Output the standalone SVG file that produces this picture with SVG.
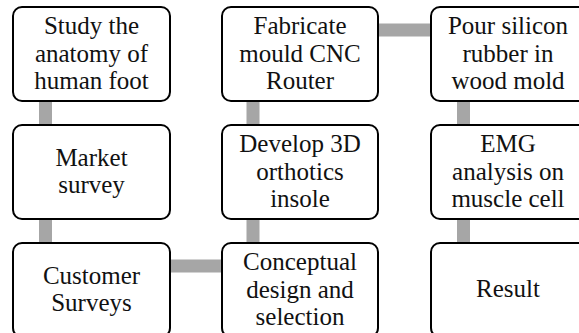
<svg xmlns="http://www.w3.org/2000/svg" width="579" height="333" viewBox="0 0 579 333">
<style>
.box{fill:#fff;stroke:#000;stroke-width:2}
.conn{stroke:#a6a6a6;stroke-width:13;fill:none}
.t{font-family:'Liberation Serif','Times New Roman',serif;font-size:25px;fill:#111;text-anchor:middle}
</style>
<rect width="579" height="333" fill="#fff"/>
<g id="connectors">
<line class="conn" x1="45.5" y1="100" x2="45.5" y2="244"/>
<line class="conn" x1="253" y1="100" x2="253" y2="244"/>
<line class="conn" x1="463.5" y1="100" x2="463.5" y2="244"/>
<line class="conn" x1="377" y1="30" x2="432" y2="30"/>
<line class="conn" x1="169" y1="266" x2="223" y2="266"/>
</g>
<g class="t">
<g id="study">
<rect class="box" x="13" y="7" width="157" height="94" rx="9"/>
<text x="91.5" y="34">Study the</text>
<text x="91.5" y="62">anatomy of</text>
<text x="91.5" y="89">human foot</text>
</g>
<g id="market">
<rect class="box" x="13" y="125" width="157" height="94" rx="9"/>
<text x="91.5" y="166">Market</text>
<text x="91.5" y="193">survey</text>
</g>
<g id="customer">
<rect class="box" x="13" y="243" width="157" height="94" rx="9"/>
<text x="91.5" y="284">Customer</text>
<text x="91.5" y="311">Surveys</text>
</g>
<g id="fabricate">
<rect class="box" x="222" y="7" width="156" height="94" rx="9"/>
<text x="300" y="34">Fabricate</text>
<text x="300" y="62">mould CNC</text>
<text x="300" y="89">Router</text>
</g>
<g id="develop">
<rect class="box" x="222" y="125" width="156" height="94" rx="9"/>
<text x="300" y="152">Develop 3D</text>
<text x="300" y="180">orthotics</text>
<text x="300" y="207">insole</text>
</g>
<g id="conceptual">
<rect class="box" x="222" y="243" width="156" height="94" rx="9"/>
<text x="300" y="270">Conceptual</text>
<text x="300" y="298">design and</text>
<text x="300" y="325">selection</text>
</g>
<g id="pour">
<rect class="box" x="431" y="7" width="156" height="94" rx="9"/>
<text x="508" y="34">Pour silicon</text>
<text x="508" y="62">rubber in</text>
<text x="508" y="89">wood mold</text>
</g>
<g id="emg">
<rect class="box" x="431" y="125" width="156" height="94" rx="9"/>
<text x="508" y="152">EMG</text>
<text x="508" y="180">analysis on</text>
<text x="508" y="207">muscle cell</text>
</g>
<g id="result">
<rect class="box" x="431" y="243" width="156" height="94" rx="9"/>
<text x="508" y="297">Result</text>
</g>
</g>
</svg>
